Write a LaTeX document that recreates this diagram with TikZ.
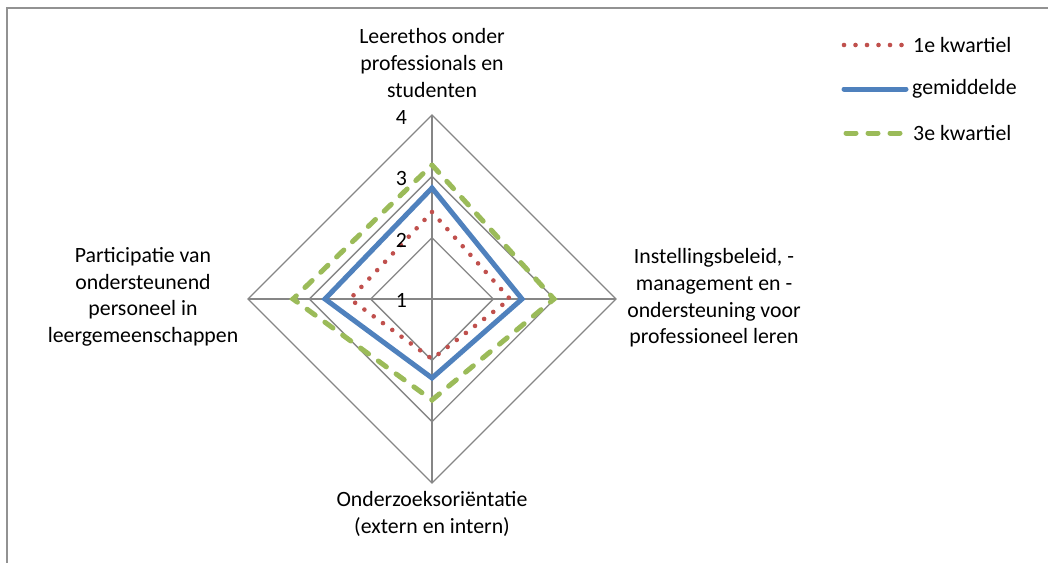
\documentclass[tikz,border=0pt]{standalone}
\usepackage{fontspec}
\setmainfont{Carlito}
\usetikzlibrary{calc}
\definecolor{gridgrey}{HTML}{868686}
\definecolor{qred}{HTML}{C0504D}
\definecolor{qblue}{HTML}{4F81BD}
\definecolor{qgreen}{HTML}{9BBB59}
\tikzset{
  gridline/.style={draw=gridgrey, line width=1.3pt},
  frameline/.style={draw=gridgrey!90, line width=1.6pt},
  redline/.style={draw=qred, line width=4.6pt, line cap=round, dash pattern=on 0pt off 11.5pt},
  blueline/.style={draw=qblue, line width=5pt, line join=miter},
  greenline/.style={draw=qgreen, line width=5pt, line cap=round, dash pattern=on 10pt off 12pt},
  lbl/.style={font=\fontsize{21.8}{26.6}\selectfont, align=center, inner sep=0pt, text=black},
  ticklbl/.style={font=\fontsize{21.8}{26.6}\selectfont, inner sep=0pt, anchor=east},
  legtxt/.style={font=\fontsize{21.8}{26.6}\selectfont, inner sep=0pt, anchor=west}
}
\begin{document}
\begin{tikzpicture}[x=1pt,y=-1pt]
\useasboundingbox (0,0) rectangle (1048,563);
% frame
\coordinate (ftl) at (7,8);
\coordinate (ftr) at (1048,8);
\coordinate (fbl) at (7,563);
\draw[frameline] (ftr) -- (ftl) -- (fbl);
% centre and axes
\coordinate (C) at (432,299);
\def\u{61.33}
\foreach \k in {1,2,3}{
  \draw[gridline] ($(C)+(0,-\k*\u)$) -- ($(C)+(\k*\u,0)$) -- ($(C)+(0,\k*\u)$) -- ($(C)+(-\k*\u,0)$) -- cycle;
}
\coordinate (T) at ($(C)+(0,-3*\u)$);
\coordinate (R) at ($(C)+(3*\u,0)$);
\coordinate (B) at ($(C)+(0,3*\u)$);
\coordinate (L) at ($(C)+(-3*\u,0)$);
\draw[gridline] (C) -- (T);
\draw[gridline] (C) -- (R);
\draw[gridline] (C) -- (B);
\draw[gridline] (C) -- (L);
% data
\coordinate (rT) at ($(C)+(0,-87)$);
\coordinate (rR) at ($(C)+(78,0)$);
\coordinate (rB) at ($(C)+(0,60)$);
\coordinate (rL) at ($(C)+(-82,0)$);
\coordinate (bT) at ($(C)+(0,-111)$);
\coordinate (bR) at ($(C)+(90,0)$);
\coordinate (bB) at ($(C)+(0,79)$);
\coordinate (bL) at ($(C)+(-107,0)$);
\coordinate (gT) at ($(C)+(0,-134)$);
\coordinate (gR) at ($(C)+(122,0)$);
\coordinate (gB) at ($(C)+(0,101)$);
\coordinate (gL) at ($(C)+(-139,0)$);
\draw[greenline] (gT) -- (gR) -- (gB) -- (gL) -- cycle;
\draw[blueline] (bT) -- (bR) -- (bB) -- (bL) -- cycle;
\draw[redline] (rT) -- (rR) -- (rB) -- (rL) -- cycle;
% tick labels
\node[ticklbl] (t1) at (407,300) {1};
\node[ticklbl] (t2) at (407,240) {2};
\node[ticklbl] (t3) at (407,178) {3};
\node[ticklbl] (t4) at (407,117) {4};
% axis labels
\node[lbl] (labT) at (432,63) {Leerethos onder\\professionals en\\studenten};
\node[lbl] (labR) at (714,298) {Instellingsbeleid, -\\management en -\\ondersteuning voor\\professioneel leren};
\node[lbl] (labB) at (432,514) {Onderzoeksoriëntatie\\(extern en intern)};
\node[lbl] (labL) at (143,297) {Participatie van\\ondersteunend\\personeel in\\leergemeenschappen};
% legend
\coordinate (l1a) at (844,45); \coordinate (l1b) at (903,45);
\coordinate (l2a) at (844,89); \coordinate (l2b) at (906,89);
\coordinate (l3a) at (846,133); \coordinate (l3b) at (902,133);
\draw[redline] (l1a) -- (l1b);
\draw[qblue, line width=5pt, line cap=round] (l2a) -- (l2b);
\draw[greenline] (l3a) -- (l3b);
\node[legtxt] (lt1) at (913,45) {1e kwartiel};
\node[legtxt] (lt2) at (912,89) {gemiddelde};
\node[legtxt] (lt3) at (913,133) {3e kwartiel};
\end{tikzpicture}
\end{document}
